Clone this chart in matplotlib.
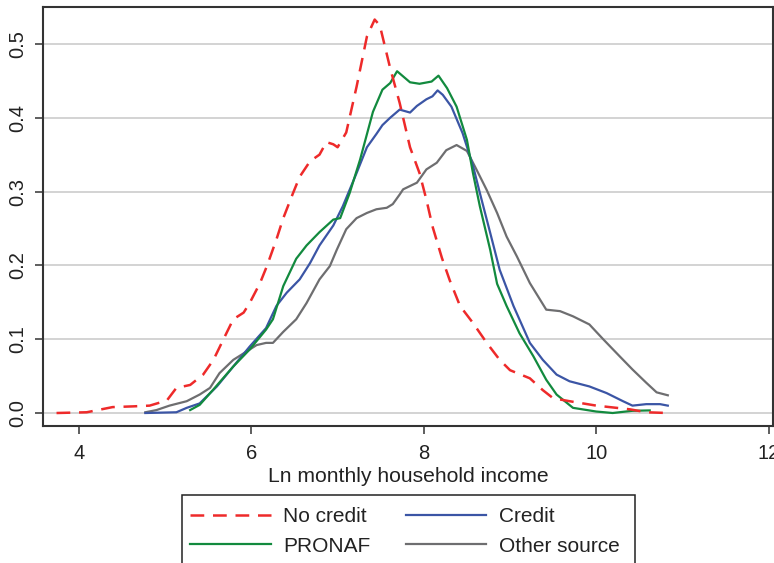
import matplotlib
matplotlib.use("Agg")
import matplotlib.pyplot as plt
from matplotlib.patches import Rectangle

# Kernel density estimates of log monthly household income by credit status
no_credit_x = [3.74, 4.09, 4.39, 4.63, 4.82, 5.02, 5.13, 5.29, 5.44, 5.56, 5.71, 5.79, 5.91,
               5.98, 6.10, 6.18, 6.29, 6.37, 6.48, 6.56, 6.68, 6.79, 6.87, 6.95, 7.00, 7.10,
               7.22, 7.34, 7.43, 7.49, 7.61, 7.72, 7.84, 7.95, 8.03, 8.10, 8.21, 8.30, 8.42,
               8.57, 8.73, 8.88, 9.00, 9.23, 9.38, 9.50, 9.69, 10.00, 10.39, 10.58, 10.83]
no_credit_y = [0.000, 0.001, 0.008, 0.009, 0.010, 0.017, 0.034, 0.038, 0.052, 0.072, 0.108,
               0.127, 0.136, 0.149, 0.176, 0.199, 0.235, 0.264, 0.297, 0.320, 0.341, 0.350,
               0.367, 0.364, 0.360, 0.380, 0.442, 0.510, 0.533, 0.525, 0.467, 0.420, 0.360,
               0.325, 0.289, 0.253, 0.210, 0.180, 0.145, 0.122, 0.095, 0.072, 0.058, 0.047,
               0.031, 0.020, 0.016, 0.010, 0.005, 0.001, 0.000]

credit_x = [4.77, 5.13, 5.25, 5.40, 5.60, 5.79, 5.98, 6.17, 6.29, 6.41, 6.56, 6.68, 6.79,
            6.95, 7.06, 7.22, 7.34, 7.45, 7.52, 7.61, 7.72, 7.84, 7.92, 8.03, 8.10, 8.16,
            8.22, 8.32, 8.45, 8.57, 8.65, 8.77, 8.88, 9.04, 9.23, 9.38, 9.54, 9.69, 9.92,
            10.12, 10.31, 10.42, 10.58, 10.74, 10.83]
credit_y = [0.000, 0.001, 0.007, 0.013, 0.036, 0.063, 0.090, 0.115, 0.145, 0.163, 0.181,
            0.203, 0.227, 0.254, 0.280, 0.325, 0.360, 0.378, 0.390, 0.400, 0.411, 0.407,
            0.416, 0.425, 0.429, 0.437, 0.431, 0.415, 0.379, 0.335, 0.298, 0.244, 0.194,
            0.145, 0.095, 0.072, 0.052, 0.043, 0.036, 0.027, 0.016, 0.010, 0.012, 0.012,
            0.010]

pronaf_x = [5.29, 5.40, 5.56, 5.79, 5.98, 6.17, 6.25, 6.37, 6.52, 6.64, 6.79, 6.95, 7.03,
            7.14, 7.26, 7.41, 7.52, 7.61, 7.69, 7.84, 7.95, 8.09, 8.17, 8.27, 8.38, 8.50,
            8.57, 8.65, 8.77, 8.85, 8.96, 9.11, 9.27, 9.42, 9.54, 9.73, 10.00, 10.19,
            10.42, 10.62]
pronaf_y = [0.004, 0.011, 0.032, 0.063, 0.086, 0.113, 0.127, 0.172, 0.209, 0.227, 0.245,
            0.262, 0.264, 0.298, 0.343, 0.408, 0.438, 0.447, 0.463, 0.448, 0.446, 0.449,
            0.457, 0.440, 0.415, 0.370, 0.325, 0.280, 0.221, 0.175, 0.145, 0.108, 0.077,
            0.045, 0.025, 0.007, 0.002, 0.000, 0.003, 0.0035]

other_x = [4.77, 4.90, 5.05, 5.25, 5.40, 5.52, 5.63, 5.79, 5.94, 6.06, 6.17, 6.25, 6.37,
           6.52, 6.64, 6.79, 6.91, 6.99, 7.10, 7.22, 7.34, 7.45, 7.57, 7.64, 7.72, 7.76,
           7.92, 8.03, 8.15, 8.26, 8.38, 8.50, 8.61, 8.73, 8.85, 8.96, 9.08, 9.23, 9.42,
           9.58, 9.73, 9.92, 10.08, 10.27, 10.42, 10.58, 10.70, 10.83]
other_y = [0.001, 0.004, 0.010, 0.016, 0.025, 0.034, 0.054, 0.072, 0.083, 0.092, 0.095,
           0.095, 0.110, 0.127, 0.149, 0.181, 0.199, 0.221, 0.249, 0.264, 0.271, 0.276,
           0.278, 0.283, 0.296, 0.303, 0.312, 0.330, 0.339, 0.356, 0.363, 0.355, 0.330,
           0.302, 0.271, 0.239, 0.212, 0.176, 0.140, 0.138, 0.131, 0.120, 0.100, 0.077,
           0.059, 0.041, 0.028, 0.024]

x_ticks = [4, 6, 8, 10, 12]
y_ticks = [0.0, 0.1, 0.2, 0.3, 0.4, 0.5]
y_tick_labels = ["0.0", "0.1", "0.2", "0.3", "0.4", "0.5"]

RED = "#EE2A2A"
BLUE = "#3B55A5"
GREEN = "#128A3E"
GREY = "#6E6E70"

plt.rcParams["font.family"] = ["Liberation Sans", "DejaVu Sans"]

W, H = 774, 563
fig = plt.figure(figsize=(W / 100, H / 100), dpi=100)
ax = fig.add_axes([43 / W, 1 - 426 / H, 730 / W, 419 / H])

ax.set_xlim(3.583, 12.05)
ax.set_ylim(-0.0176, 0.550)

for y in y_ticks:
    ax.axhline(y, color="#C8C8C8", lw=1.1, zorder=0)

ax.plot(no_credit_x, no_credit_y, color=RED, lw=1.8, dashes=(5.5, 3.5), label="No credit", zorder=3)
ax.plot(credit_x, credit_y, color=BLUE, lw=1.6, label="Credit", zorder=2)
ax.plot(pronaf_x, pronaf_y, color=GREEN, lw=1.6, label="PRONAF", zorder=2)
ax.plot(other_x, other_y, color=GREY, lw=1.6, label="Other source", zorder=1)

ax.set_xticks(x_ticks)
ax.set_yticks(y_ticks)
ax.set_yticklabels(y_tick_labels, rotation=90, va="center")
ax.tick_params(axis="both", direction="out", length=6, width=1.1, color="#333333",
               labelsize=14.5, labelcolor="#222222")
ax.tick_params(axis="x", pad=7)
ax.tick_params(axis="y", pad=5)
for lab in ax.get_xticklabels() + ax.get_yticklabels():
    lab.set_family(["Liberation Sans Narrow", "Liberation Sans"])

for sp in ax.spines.values():
    sp.set_color("#333333")
    sp.set_linewidth(1.5)

ax.set_xlabel("Ln monthly household income", fontsize=15.2, color="#222222", labelpad=3)

# Legend: two columns below the plot, entries ordered column-wise
handles, labels = ax.get_legend_handles_labels()
order = [0, 2, 1, 3]
leg = fig.legend([handles[i] for i in order], [labels[i] for i in order],
                 loc="upper left", bbox_to_anchor=(182 / W, 1 - 499 / H),
                 ncol=2, fontsize=15, frameon=False, handlelength=3.85,
                 handletextpad=0.62, columnspacing=1.68, borderpad=0.4,
                 labelspacing=0.5, borderaxespad=0)
for t in leg.get_texts():
    t.set_color("#222222")

# Legend box, running off the bottom edge of the figure
box_left, box_right, box_top, box_bottom = 182, 635, 495, H + 10
fig.patches.append(Rectangle((box_left / W, 1 - box_bottom / H),
                             (box_right - box_left) / W, (box_bottom - box_top) / H,
                             transform=fig.transFigure, fill=False,
                             edgecolor="#222222", linewidth=1.1))

fig.savefig("out.png", dpi=100)
